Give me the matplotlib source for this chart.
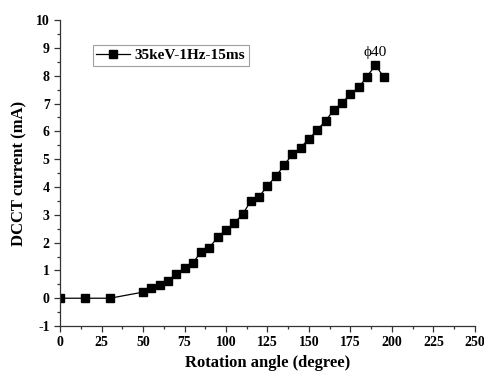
import matplotlib
matplotlib.use("Agg")
import matplotlib.pyplot as plt
from matplotlib.ticker import MultipleLocator

angle = [0, 15, 30, 50, 55, 60, 65, 70, 75, 80, 85, 90, 95, 100, 105, 110, 115,
         120, 125, 130, 135, 140, 145, 150, 155, 160, 165, 170, 175, 180, 185, 190, 195]
current = [0, 0, 0, 0.22, 0.38, 0.47, 0.63, 0.86, 1.1, 1.26, 1.68, 1.82, 2.2, 2.46,
           2.7, 3.02, 3.5, 3.65, 4.05, 4.38, 4.78, 5.18, 5.42, 5.73, 6.05, 6.38,
           6.77, 7.02, 7.35, 7.58, 7.97, 8.38, 7.97]
series_label = "35keV-1Hz-15ms"
annot_text = "ϕ40"

plt.rcParams['font.family'] = ['Liberation Serif', 'DejaVu Serif']
plt.rcParams['axes.unicode_minus'] = False

fig = plt.figure(figsize=(4.85, 3.8), dpi=100)
ax = fig.add_axes([0.124, 0.142, 0.855, 0.805])

ax.plot(angle, current, color='black', lw=0.9, marker='s', markersize=6,
        markerfacecolor='black', markeredgecolor='black', label=series_label)

ax.set_xlim(0, 250)
ax.set_ylim(-1, 10)
ax.xaxis.set_major_locator(MultipleLocator(25))
ax.xaxis.set_minor_locator(MultipleLocator(12.5))
ax.yaxis.set_major_locator(MultipleLocator(1))
ax.yaxis.set_minor_locator(MultipleLocator(0.5))

for s in ['top', 'right']:
    ax.spines[s].set_visible(False)
for s in ['left', 'bottom']:
    ax.spines[s].set_color('#333333')
    ax.spines[s].set_linewidth(0.9)

ax.tick_params(which='major', direction='out', length=4, width=0.9, colors='#333333',
               labelcolor='black', labelsize=10)
ax.tick_params(which='minor', direction='out', length=2, width=0.9, colors='#333333')
for lab in ax.get_xticklabels() + ax.get_yticklabels():
    lab.set_fontweight('bold')

ax.set_xlabel("Rotation angle (degree)", fontsize=12, fontweight='bold', labelpad=4)
ax.set_ylabel("DCCT current (mA)", fontsize=12, fontweight='bold', labelpad=6)

ax.annotate(annot_text, xy=(190, 8.85), ha='center', va='center', fontsize=11)

leg = ax.legend(loc='upper left', bbox_to_anchor=(0.06, 0.945), frameon=True,
                fancybox=False, edgecolor='#888888', handlelength=2.2,
                handletextpad=0.3, borderpad=0.25, prop={'weight': 'bold', 'size': 11})
leg.get_frame().set_linewidth(0.8)

fig.savefig("out.png", dpi=100)
